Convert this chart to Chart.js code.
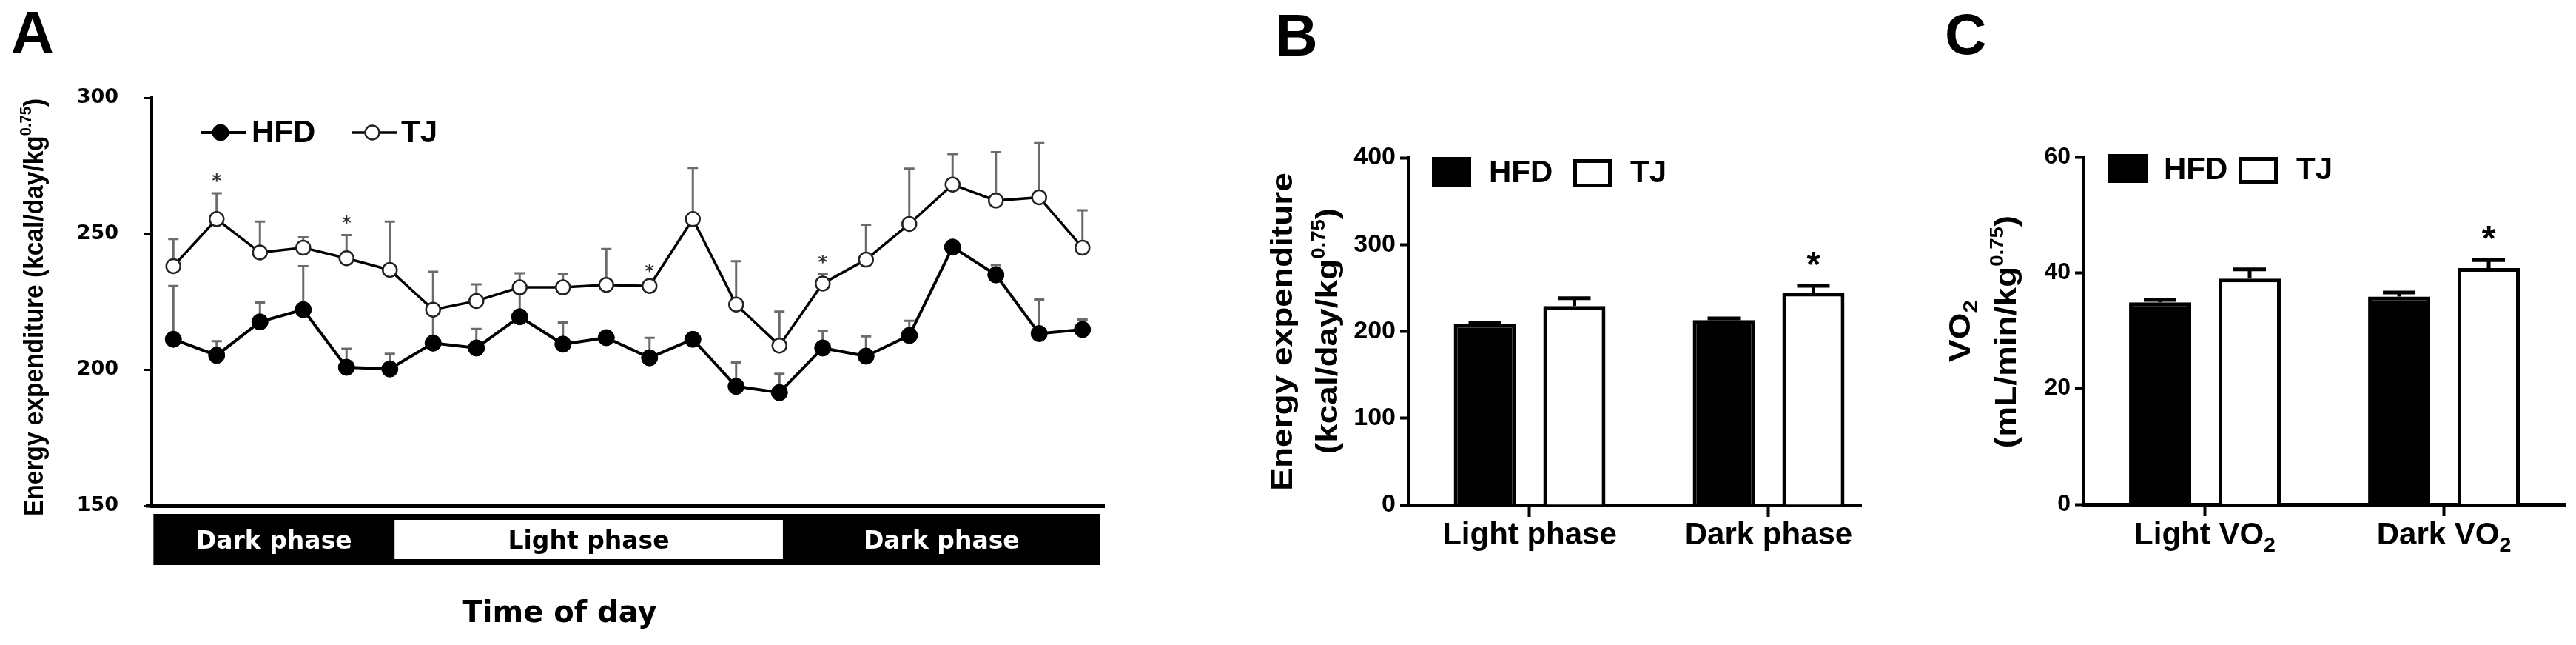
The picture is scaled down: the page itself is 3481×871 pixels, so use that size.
<!DOCTYPE html>
<html><head><meta charset="utf-8">
<script src="https://cdn.jsdelivr.net/npm/chart.js@4.4.1/dist/chart.umd.min.js"></script>
<style>
html,body{margin:0;padding:0;background:#fff;}
#wrap{position:relative;width:3481px;height:871px;overflow:hidden;background:#fff;}
canvas{position:absolute;top:0;}
</style></head><body>
<div id="wrap">
<canvas id="cA" width="1640" height="871" style="left:0"></canvas>
<canvas id="cB" width="900" height="871" style="left:1640px"></canvas>
<canvas id="cC" width="941" height="871" style="left:2540px"></canvas>
</div>
<script>
// ════ data: panel A (hourly energy expenditure) ════
const hourLabels=['1','2','3','4','5','6','7','8','9','10','11','12','13','14','15','16','17','18','19','20','21','22'];
const hfdEE=[211.2,205.3,217.6,222.1,200.9,200.3,209.8,208.0,219.5,209.4,211.8,204.4,211.2,193.9,191.6,208.0,205.0,212.6,245.1,234.9,213.3,214.8];
const hfdErr=[19.6,5.2,7.1,16.0,6.8,5.6,12.0,7.0,10.5,8.0,0.8,7.3,0.8,8.8,6.9,6.1,7.3,5.4,1.0,3.6,12.5,3.7];
const tjEE=[238.1,255.4,243.1,244.9,241.0,236.7,222.1,225.3,230.3,230.3,231.2,230.8,255.4,224.0,208.9,231.7,240.5,253.6,268.1,262.2,263.4,244.9];
const tjErr=[10.0,9.5,11.4,3.8,8.5,17.8,13.9,6.1,5.2,5.0,13.2,0.8,18.8,15.9,12.5,3.4,12.8,20.3,11.2,17.8,19.9,13.7];
const tjStarIdx=[1,4,11,15];
const phaseNames=['Dark phase','Light phase','Dark phase'];
const phaseEdges=[-0.46,5.11,14.08,21.41];   // in hour-index units

// ════ data: panel B (energy expenditure by phase) ════
const phasesB=['Light phase','Dark phase'];
const hfdB=[208.5,213.0];  const hfdBErr=[1.5,2.0];
const tjB=[229.2,244.4];   const tjBErr=[9.0,8.0];
const starB=[false,true];

// ════ data: panel C (VO2) ════
const catsC=['Light VO','Dark VO'];
const hfdC=[34.9,35.9];  const hfdCErr=[0.4,0.7];
const tjC=[39.0,40.8];   const tjCErr=[1.6,1.4];
const starC=[false,true];

const SANS="'Liberation Sans', Arial, sans-serif";
const DJV="'DejaVu Sans', sans-serif";

// rich text: parts=[[text,'sup'|'sub'|undefined],...]; (cx,cy)= center of caps
function drawRich(ctx,parts,cx,cy,fs,fam,o={}){
  ctx.save();ctx.translate(cx,cy);
  if(o.rot)ctx.rotate(o.rot);
  if(o.sy)ctx.scale(1,o.sy);
  if(o.sx)ctx.scale(o.sx,1);
  let w=0;
  const segs=parts.map(([t,k])=>{const s=k==='sup'?fs*0.6:k==='sub'?fs*0.68:fs;ctx.font=`bold ${s}px ${fam}`;const m=ctx.measureText(t).width;w+=m;return {t,k,s,m};});
  let x=o.align==='left'?0:-w/2;
  ctx.textAlign='left';ctx.textBaseline='alphabetic';ctx.fillStyle=o.color||'#000';
  const base=fs*0.36;
  segs.forEach(s=>{ctx.font=`bold ${s.s}px ${fam}`;const dy=s.k==='sup'?-fs*0.42:s.k==='sub'?fs*0.24:0;ctx.fillText(s.t,x,base+dy);x+=s.m;});
  ctx.restore();
}

// upward error bars for every dataset
const errBars={
  id:'errBars',
  beforeDatasetsDraw(chart,args,o){if(!o.front)draw(chart,o);},
  afterDatasetsDraw(chart,args,o){if(o.front)draw(chart,o);}
};
function draw(chart,o){
  if(!o.errs)return;
  const ctx=chart.ctx,ys=chart.scales.y;
  ctx.save();ctx.strokeStyle=o.color;ctx.lineWidth=o.width;ctx.lineCap='butt';
  chart.data.datasets.forEach((ds,di)=>{
    chart.getDatasetMeta(di).data.forEach((el,i)=>{
      const v=ds.data[i],val=typeof v==='object'?v.y:v;
      const top=ys.getPixelForValue(val+o.errs[di][i]);
      ctx.beginPath();ctx.moveTo(el.x,el.y);ctx.lineTo(el.x,top);
      ctx.moveTo(el.x-o.cap,top);ctx.lineTo(el.x+o.cap,top);ctx.stroke();
    });
  });
  ctx.restore();
}

// ════ PANEL A ════
const decoA={
  id:'decoA',
  afterDraw(chart){
    const ctx=chart.ctx,xs=chart.scales.x,ys=chart.scales.y,ca=chart.chartArea;
    const step=xs.getPixelForValue(1)-xs.getPixelForValue(0),px=u=>xs.getPixelForValue(0)+u*step;
    ctx.save();
    ctx.fillStyle='#000';ctx.fillRect(ca.left-8,ca.bottom-2.5,10,5);
    // phase bar
    const top=694,bot=763;
    ctx.fillRect(px(phaseEdges[0]),top,px(phaseEdges[3])-px(phaseEdges[0]),bot-top);
    phaseNames.forEach((n,i)=>{
      const a=px(phaseEdges[i]),b=px(phaseEdges[i+1]);
      const light=n.startsWith('Light');
      if(light){ctx.fillStyle='#fff';ctx.fillRect(a,702,b-a,53);}
      drawRich(ctx,[[n]],(a+b)/2,729.5,33,DJV,{color:light?'#000':'#fff'});
    });
    drawRich(ctx,[['Time of day']],756,826,40,DJV);
    // stars
    tjStarIdx.forEach(i=>{
      const el=chart.getDatasetMeta(1).data[i];
      const y=ys.getPixelForValue(tjEE[i]+tjErr[i])-23;
      ctx.font=`bold 24px ${DJV}`;ctx.fillStyle='#333';ctx.textAlign='center';ctx.textBaseline='alphabetic';
      ctx.fillText('*',el.x,y+0.59*24);
    });
    // legend
    const ds=chart.data.datasets;
    [[272,333,298,340],[475,537,503,542]].forEach((p,k)=>{
      const d=ds[k];
      ctx.strokeStyle=d.borderColor;ctx.lineWidth=d.borderWidth;
      ctx.beginPath();ctx.moveTo(p[0],179);ctx.lineTo(p[1],179);ctx.stroke();
      ctx.beginPath();ctx.arc(p[2],179,d.pointRadius,0,Math.PI*2);
      ctx.fillStyle=d.pointBackgroundColor;ctx.fill();
      ctx.lineWidth=d.pointBorderWidth;ctx.strokeStyle=d.pointBorderColor;ctx.stroke();
      drawRich(ctx,[[d.label]],p[3],177,42,SANS,{align:'left'});
    });
    // titles
    drawRich(ctx,[['Energy expenditure (kcal/day/kg'],['0.75','sup'],[')']],44,415,33.5,SANS,{rot:-Math.PI/2,sy:1.12});
    drawRich(ctx,[['A']],15,42.5,80,SANS,{align:'left'});
    ctx.restore();
  }
};

new Chart(document.getElementById('cA'),{
  type:'line',
  data:{labels:hourLabels,datasets:[
    {label:'HFD',data:hfdEE,borderColor:'#000',borderWidth:4,pointRadius:11,pointBackgroundColor:'#000',pointBorderColor:'#000',pointBorderWidth:1,tension:0},
    {label:'TJ',data:tjEE,borderColor:'#000',borderWidth:3.5,pointRadius:9.5,pointBackgroundColor:'#fff',pointBorderColor:'#222',pointBorderWidth:2.5,tension:0},
  ]},
  options:{responsive:false,animation:false,events:[],
    layout:{padding:{top:132,right:148,left:0,bottom:0}},
    plugins:{legend:{display:false},tooltip:{enabled:false},errBars:{errs:[hfdErr,tjErr],color:'#6b6b6b',width:3,cap:7,front:false}},
    scales:{
      x:{type:'category',offset:true,grid:{display:false},border:{display:true,color:'#000',width:5},ticks:{display:false},afterFit:s=>{s.height=188;}},
      y:{min:150,max:300,ticks:{stepSize:50,color:'#000',padding:35,font:{family:DJV,weight:'bold',size:27}},
        grid:{drawOnChartArea:false,tickLength:10,tickWidth:3,color:'#000'},border:{color:'#000',width:4},afterFit:s=>{s.width=205;}}
    }},
  plugins:[errBars,decoA]
});

// ════ PANELS B & C (bars) ════
function legendBox(ctx,chart,boxes){
  const ds=chart.data.datasets;
  boxes.forEach((b,k)=>{
    const d=ds[k];
    ctx.fillStyle=d.borderColor;ctx.fillRect(b[0],b[1],b[2]-b[0],b[3]-b[1]);
    ctx.fillStyle=d.backgroundColor;ctx.fillRect(b[0]+5,b[1]+5,b[2]-b[0]-10,b[3]-b[1]-10);
    drawRich(ctx,[[d.label]],b[4],b[5],42,SANS,{align:'left'});
  });
}
function stars(ctx,chart,vals,errs,flags){
  const meta=chart.getDatasetMeta(1),ys=chart.scales.y;
  flags.forEach((f,i)=>{if(!f)return;
    const el=meta.data[i],y=ys.getPixelForValue(vals[i]+errs[i])-41;
    ctx.font=`bold 48px ${SANS}`;ctx.fillStyle='#000';ctx.textAlign='center';ctx.textBaseline='alphabetic';
    ctx.fillText('*',el.x,y+0.58*48);
  });
}
function barOpts(o){
  return {responsive:false,animation:false,events:[],
    layout:{padding:{top:o.top,right:o.right,left:0,bottom:0}},
    plugins:{legend:{display:false},tooltip:{enabled:false},errBars:{errs:o.errs,color:'#000',width:5,cap:22,front:true}},
    scales:{
      x:{type:'linear',min:o.xmin,max:o.xmax,offset:false,
        afterBuildTicks:s=>{s.ticks=[{value:0},{value:1}];},
        ticks:{callback:v=>o.labels?o.labels[v]:'',color:'#000',padding:0,maxRotation:0,autoSkip:false,font:{family:SANS,weight:'bold',size:42}},
        grid:{offset:false,drawOnChartArea:false,tickLength:16,tickWidth:4,color:'#000'},border:{color:'#000',width:5},afterFit:s=>{s.height=o.xh;}},
      y:{min:0,max:o.ymax,ticks:{stepSize:o.step,color:'#000',padding:6,font:{family:SANS,weight:'bold',size:o.tfs}},
        grid:{drawOnChartArea:false,tickLength:11,tickWidth:4,color:'#000'},border:{color:'#000',width:5},afterFit:s=>{s.width=o.yw;}}
    }};
}
const barDs=(hv,tv)=>[
  {label:'HFD',data:hv.map((v,i)=>({x:i,y:v})),backgroundColor:'#000',borderColor:'#000',borderWidth:5,borderSkipped:'start',categoryPercentage:0.749,barPercentage:0.694},
  {label:'TJ',data:tv.map((v,i)=>({x:i,y:v})),backgroundColor:'#fff',borderColor:'#000',borderWidth:5,borderSkipped:'start',categoryPercentage:0.749,barPercentage:0.694},
];

new Chart(document.getElementById('cB'),{
  type:'bar',
  data:{datasets:barDs(hfdB,tjB)},
  options:barOpts({top:213,right:25,yw:263,xh:189,xmin:-0.5077,xmax:1.387,ymax:400,step:100,tfs:34,errs:[hfdBErr,tjBErr],labels:phasesB}),
  plugins:[errBars,{id:'decoB',afterDraw(chart){
    const ctx=chart.ctx;ctx.save();
    legendBox(ctx,chart,[[295,212,348,252,372,231],[486,215,538,253,563,231]]);
    stars(ctx,chart,tjB,tjBErr,starB);
    drawRich(ctx,[['Energy expenditure']],91,448,46,SANS,{rot:-Math.PI/2,sy:0.9});
    drawRich(ctx,[['(kcal/day/kg'],['0.75','sup'],[')']],152,447,46,SANS,{rot:-Math.PI/2,sy:0.9});
    drawRich(ctx,[['B']],83,46,80,SANS,{align:'left'});
    ctx.restore();
  }}]
});

new Chart(document.getElementById('cC'),{
  type:'bar',
  data:{datasets:barDs(hfdC,tjC)},
  options:barOpts({top:212,right:15,yw:275,xh:190,xmin:-0.5093,xmax:1.506,ymax:60,step:20,tfs:32,errs:[hfdCErr,tjCErr],labels:null}),
  plugins:[errBars,{id:'decoC',afterDraw(chart){
    const ctx=chart.ctx,xs=chart.scales.x;ctx.save();
    catsC.forEach((c,i)=>drawRich(ctx,[[c],['2','sub']],xs.getPixelForValue(i),720,42,SANS));
    legendBox(ctx,chart,[[308,208,362,247,384,227],[485,212,538,248,563,227]]);
    stars(ctx,chart,tjC,tjCErr,starC);
    drawRich(ctx,[['VO'],['2','sub']],107,447,46,SANS,{rot:-Math.PI/2,sy:0.9});
    drawRich(ctx,[['(mL/min/kg'],['0.75','sup'],[')']],169,448,46,SANS,{rot:-Math.PI/2,sy:0.9});
    drawRich(ctx,[['C']],88,44.5,78,SANS,{align:'left'});
    ctx.restore();
  }}]
});
</script>
</body></html>
